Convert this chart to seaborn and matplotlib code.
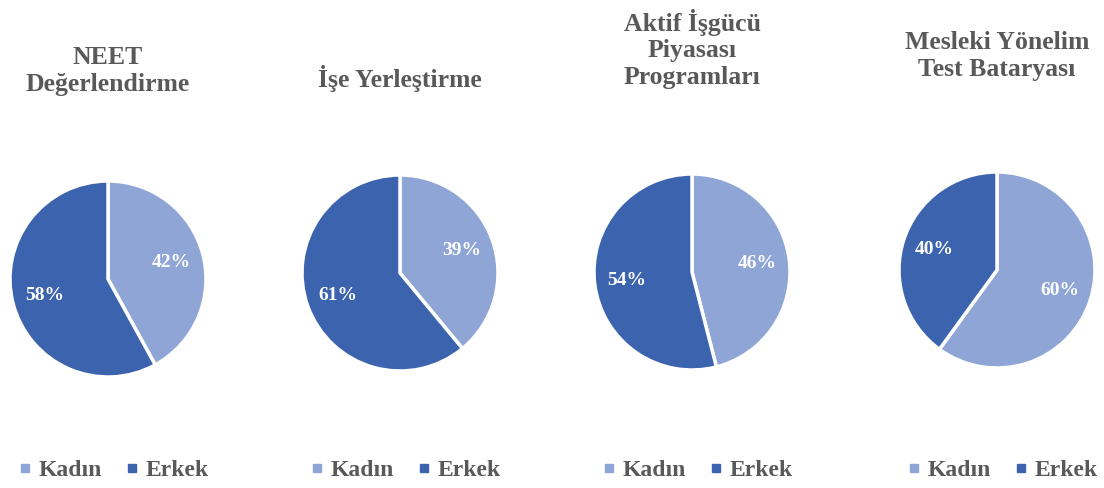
import seaborn as sns
import matplotlib.pyplot as plt
from matplotlib.lines import Line2D

# data
titles = ['NEET\nDeğerlendirme', 'İşe Yerleştirme', 'Aktif İşgücü\nPiyasası\nProgramları',
          'Mesleki Yönelim\nTest Bataryası']
kadin = [42, 39, 46, 60]
erkek = [58, 61, 54, 40]
labels = ['Kadın', 'Erkek']

sns.set_theme(style='white')
plt.rcParams['font.family'] = ['Liberation Serif', 'DejaVu Serif']
colors = ['#8FA5D6', '#3C64AE']
gray = '#595959'

W, H = 1104, 488
fig = plt.figure(figsize=(W / 100, H / 100), dpi=100)

# pie centres / title centres in pixels
centres = [(108, 279), (400, 273), (692, 272), (997, 270)]
title_y = [71, 78, 49, 56]
r = 100

for i, (cx, cy) in enumerate(centres):
    ax = fig.add_axes([(cx - r) / W, 1 - (cy + r) / H, 2 * r / W, 2 * r / H])
    ax.pie([kadin[i], erkek[i]], colors=colors, startangle=90, counterclock=False,
           radius=0.98, autopct='%d%%', pctdistance=0.67,
           wedgeprops=dict(edgecolor='white', linewidth=2.5),
           textprops=dict(color='white', fontsize=14, fontweight='bold'))
    ax.set_xlim(-1, 1)
    ax.set_ylim(-1, 1)
    ax.set_aspect('equal')
    ax.axis('off')

    fig.text(cx / W, 1 - title_y[i] / H, titles[i], ha='center', va='center',
             fontsize=18.5, fontweight='bold', color=gray, linespacing=1.22)

    handles = [Line2D([], [], marker='s', linestyle='', markersize=6, color=c) for c in colors]
    fig.legend(handles, labels, loc='center', bbox_to_anchor=((cx + 6) / W, 1 - 470 / H),
               ncol=2, frameon=False, handlelength=0.5, handletextpad=0.35,
               columnspacing=1.0, prop=dict(size=17, weight='bold'), labelcolor=gray)

fig.savefig('out.png', dpi=100)
